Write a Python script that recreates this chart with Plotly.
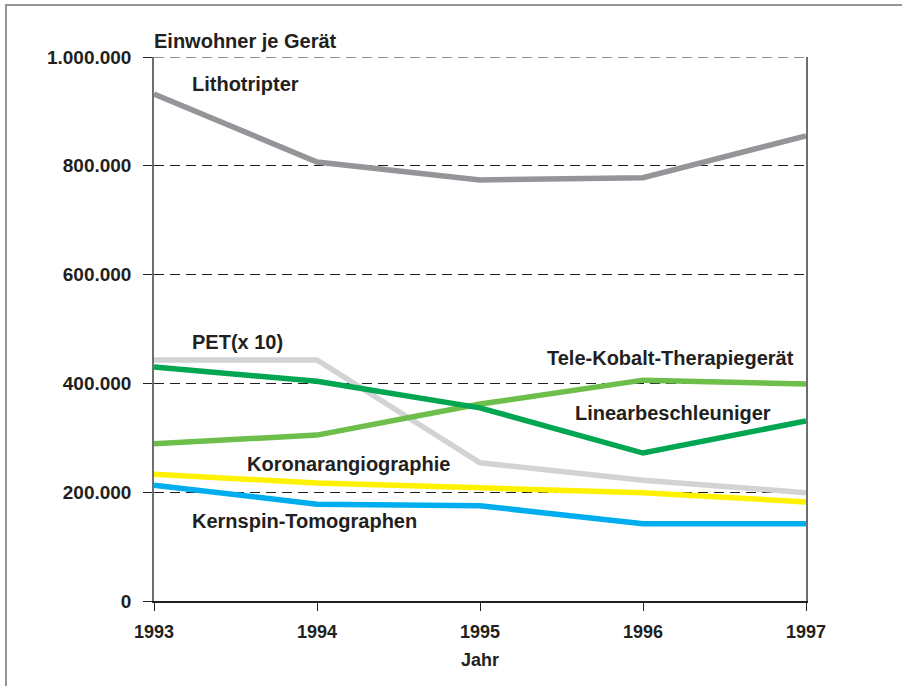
import plotly.graph_objects as go

years = [1993, 1994, 1995, 1996, 1997]
lithotripter = [932000, 807000, 774000, 778000, 855000]
pet_x10 = [443000, 443000, 254000, 222000, 199000]
linearbeschleuniger = [430000, 404000, 355000, 272000, 331000]
tele_kobalt = [289000, 305000, 362000, 406000, 399000]
koronarangiographie = [233000, 217000, 208000, 199000, 182000]
kernspin = [213000, 178000, 175000, 142000, 142000]

y_tickvals = [0, 200000, 400000, 600000, 800000, 1000000]
y_ticktext = ["0", "200.000", "400.000", "600.000", "800.000", "1.000.000"]

series = [
    ("Lithotripter", lithotripter, "#939598"),
    ("PET (x 10)", pet_x10, "#d1d3d4"),
    ("Tele-Kobalt-Therapiegerät", tele_kobalt, "#6dbe4b"),
    ("Linearbeschleuniger", linearbeschleuniger, "#00a651"),
    ("Koronarangiographie", koronarangiographie, "#fff200"),
    ("Kernspin-Tomographen", kernspin, "#00aeef"),
]

FONT = "Liberation Sans, Arial, sans-serif"
TXT = "#231f20"
DASH = "10px,6px"

fig = go.Figure()
for name, vals, col in series:
    fig.add_trace(go.Scatter(x=years, y=vals, mode="lines", name=name,
                             line=dict(color=col, width=5.5), cliponaxis=True))

labels = [
    ("Lithotripter", 1993.22, 950000),
    ("PET(x 10)", 1993.22, 477000),
    ("Tele-Kobalt-Therapiegerät", 1995.40, 446000),
    ("Linearbeschleuniger", 1995.57, 346000),
    ("Koronarangiographie", 1993.56, 252000),
    ("Kernspin-Tomographen", 1993.22, 147000),
]
for t, x, y in labels:
    fig.add_annotation(x=x, y=y, text="<b>%s</b>" % t, showarrow=False,
                       xanchor="left", yanchor="middle",
                       font=dict(family=FONT, size=20, color=TXT))

fig.add_annotation(xref="paper", yref="paper", x=-0.003, y=(601 - 41) / 544,
                   text="<b>Einwohner je Gerät</b>", showarrow=False,
                   xanchor="left", yanchor="middle",
                   font=dict(family=FONT, size=20, color=TXT))

# top dashed gridline (Plotly drops gridlines on the range edge)
fig.add_shape(type="line", xref="paper", yref="y", x0=0, x1=1,
              y0=y_tickvals[-1], y1=y_tickvals[-1],
              line=dict(color="#231f20", width=1.2, dash=DASH), layer="below")

# outer frame: only left and top edges are visible in the picture
fx0 = (6 - 154) / 652
fy1 = (601 - 5) / 544
fig.add_shape(type="path", xref="paper", yref="paper",
              path="M %f,%f L %f,%f L %f,%f" % (fx0, -0.5, fx0, fy1, 1.5, fy1),
              line=dict(color="#939598", width=2), layer="below")

fig.update_layout(
    width=902, height=686,
    margin=dict(l=154, r=96, t=57, b=85),
    paper_bgcolor="white", plot_bgcolor="white",
    showlegend=False,
    font=dict(family=FONT, size=15, color=TXT),
    xaxis=dict(range=[1993, 1997], tickvals=years,
               ticktext=["<b>%d</b>" % y for y in years],
               showgrid=False, zeroline=False, showline=True,
               linecolor="#231f20", linewidth=1.5,
               ticks="outside", ticklen=8, tickcolor="#231f20",
               ticklabelstandoff=6,
               tickfont=dict(family=FONT, size=18, color=TXT),
               title=dict(text="<b>Jahr</b>", font=dict(family=FONT, size=18, color=TXT),
                          standoff=12)),
    yaxis=dict(range=[0, 1000000], tickvals=y_tickvals,
               ticktext=["<b>%s</b>" % t for t in y_ticktext],
               showgrid=True, gridcolor="#231f20", griddash=DASH, gridwidth=1,
               zeroline=False, showline=True, linecolor="#6d6e71", linewidth=1.5,
               mirror=True,
               ticks="outside", ticklen=9, tickcolor="#231f20",
               tickfont=dict(family=FONT, size=19, color=TXT),
               ticklabelstandoff=8),
)

fig.write_html("out.html", config={"displayModeBar": False},
               post_script="document.documentElement.style.margin='0';"
                           "document.body.style.margin='0';"
                           "document.body.style.overflow='hidden';")
